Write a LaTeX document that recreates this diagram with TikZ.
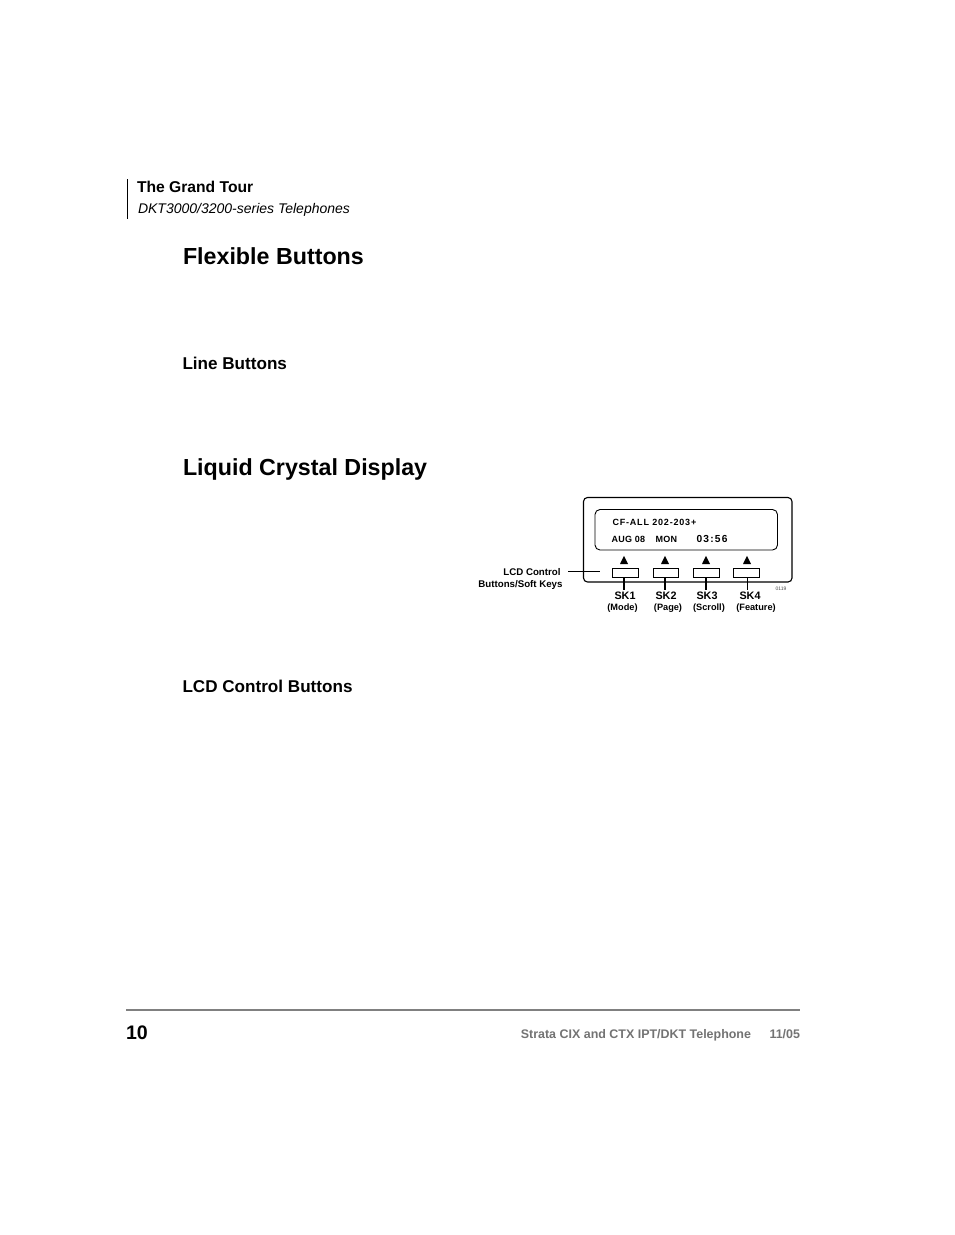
\documentclass[tikz,border=0pt]{standalone}
\usepackage{fontspec}
\setmainfont{Liberation Sans}
\newcommand{\fsz}[1]{\fontsize{#1}{#1}\selectfont}
\newcommand{\spc}[1]{\addfontfeature{LetterSpace=#1}}
\tikzset{
 txt/.style={inner sep=0pt,outer sep=0pt,anchor=base west},
 bt/.style={txt,font=\bfseries},
 softkey/.style={draw,line width=0.9pt,fill=white,minimum width=25.5pt,minimum height=9pt,inner sep=0pt,anchor=north west},
 tri/.style={fill=black,isosceles triangle,isosceles triangle apex angle=52,shape border rotate=90,minimum height=8pt,minimum width=8pt,inner sep=0pt},
 stem/.style={line width=1.1pt},
 sk/.style={bt,anchor=base,font=\bfseries\fsz{10.8}},
 skn/.style={bt,anchor=base,font=\bfseries\fsz{9.2}},
}
\usetikzlibrary{shapes.geometric}
\begin{document}
\begin{tikzpicture}[x=1pt,y=-1pt]
\useasboundingbox (0,0) rectangle (954,1235);
\fill[white] (0,0) rectangle (954,1235);
% header
\coordinate (ba) at (127,179); \coordinate (bb) at (127,219);
\draw[line width=0.8pt] (ba) -- (bb);
\node[bt,font=\bfseries\fsz{15.65}] (t1) at (137,192) {The Grand Tour};
\node[txt,font=\itshape\fsz{14}] (t2) at (138,213) {DKT3000/3200-series Telephones};
\node[bt,font=\bfseries\fsz{23.25}] (h1) at (183,264.5) {Flexible Buttons};
\node[bt,font=\bfseries\fsz{17.1}] (h2) at (182.5,369) {Line Buttons};
\node[bt,font=\bfseries\fsz{23.25}] (h3) at (183,475.5) {Liquid Crystal Display};
\node[bt,font=\bfseries\fsz{17.1}] (h4) at (182.5,692) {LCD Control Buttons};
% phone panel
\draw[line width=1.1pt,rounded corners=4pt] (583.5,497.5) rectangle (792,582);
\draw[line width=0.9pt,rounded corners=5pt] (595,509.5) rectangle (777.5,550);
\node[bt,font=\bfseries\fsz{9}\spc{9}] (l1) at (612.5,525) {CF-ALL 202-203+};
\node[bt,font=\bfseries\fsz{9}\spc{3}] (l2) at (611.5,542) {AUG 08};
\node[bt,font=\bfseries\fsz{9}\spc{3}] (l3) at (655.5,542) {MON};
\node[bt,font=\bfseries\fsz{10.2}\spc{12}] (l4) at (696.5,542) {03:56};
\foreach \n/\x/\ty in {1/612/624,2/652.5/665,3/693/706,4/733/747}{
  \node[softkey] (b\n) at (\x,568) {};
  \node[tri] (a\n) at (\ty,561.5) {};
}
% labels
\node[sk] (s1) at (625,599) {SK1};
\node[sk] (s2) at (666,599) {SK2};
\node[sk] (s3) at (707,599) {SK3};
\node[sk] (s4) at (750,599) {SK4};
\node[skn] (n1) at (622.5,610) {(Mode)};
\node[skn] (n2) at (668,610) {(Page)};
\node[skn] (n3) at (709,610) {(Scroll)};
\node[skn] (n4) at (756,610) {(Feature)};
\coordinate (e1) at (624,590); \coordinate (e2) at (665,590);
\coordinate (e3) at (706,590); \coordinate (e4) at (747,590);
\draw[stem] (b1.south -| e1) -- (e1);
\draw[stem] (b2.south -| e2) -- (e2);
\draw[stem] (b3.south -| e3) -- (e3);
\draw[line width=0.6pt] (b4.south -| e4) -- (e4);
% callout
\node[bt,anchor=base,font=\bfseries\fsz{9.7}] (c1) at (532,575) {LCD Control};
\node[bt,anchor=base,font=\bfseries\fsz{9.7}] (c2) at (520.5,587) {Buttons/Soft Keys};
\coordinate (c0) at (568,571); \coordinate (c3) at (600,571);
\draw[line width=0.7pt] (c0) -- (c3);
\node[anchor=base,inner sep=0pt,text=black!70,font=\fsz{5}] (code) at (781,590.5) {0119};
% footer
\coordinate (fa) at (126,1010); \coordinate (fb) at (800,1010);
\draw[line width=2pt,black!50] (fa) -- (fb);
\node[bt,font=\bfseries\fsz{19.6}] (pg) at (126,1039) {10};
\node[txt,anchor=base east,text=black!55,font=\bfseries\fsz{12.45}] (f1) at (751,1038) {Strata CIX and CTX IPT/DKT Telephone};
\node[txt,anchor=base east,text=black!55,font=\bfseries\fsz{12.45}] (f2) at (800,1038) {11/05};
\end{tikzpicture}
\end{document}
